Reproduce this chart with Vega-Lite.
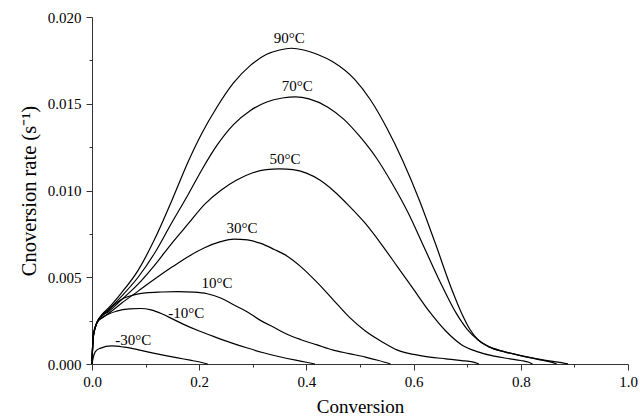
{
  "$schema": "https://vega.github.io/schema/vega-lite/v6.json",
  "width": 536,
  "height": 347,
  "autosize": {"type": "none"},
  "padding": {"left": 92, "top": 17, "right": 12, "bottom": 55},
  "background": "white",
  "config": {
    "view": {"stroke": null},
    "font": "Liberation Serif",
    "axis": {
      "grid": false,
      "labelFont": "Liberation Serif",
      "labelFontSize": 15,
      "labelColor": "black",
      "titleFont": "Liberation Serif",
      "titleFontSize": 19,
      "titleFontWeight": "normal",
      "titleColor": "black",
      "domainColor": "#333",
      "tickColor": "#333",
      "labelFlush": false,
      "labelOverlap": false
    }
  },
  "datasets": {
    "curves": [
      {"T": "90°C", "x": 0, "y": 0},
      {"T": "90°C", "x": 0.002, "y": 0.0015},
      {"T": "90°C", "x": 0.006, "y": 0.0021},
      {"T": "90°C", "x": 0.011, "y": 0.0025},
      {"T": "90°C", "x": 0.02, "y": 0.0029},
      {"T": "90°C", "x": 0.03, "y": 0.0032},
      {"T": "90°C", "x": 0.055, "y": 0.0041},
      {"T": "90°C", "x": 0.086, "y": 0.0054},
      {"T": "90°C", "x": 0.117, "y": 0.0072},
      {"T": "90°C", "x": 0.15, "y": 0.0095},
      {"T": "90°C", "x": 0.18, "y": 0.0117},
      {"T": "90°C", "x": 0.205, "y": 0.0133},
      {"T": "90°C", "x": 0.233, "y": 0.0148},
      {"T": "90°C", "x": 0.264, "y": 0.0162},
      {"T": "90°C", "x": 0.295, "y": 0.0172},
      {"T": "90°C", "x": 0.326, "y": 0.01785},
      {"T": "90°C", "x": 0.35, "y": 0.0181},
      {"T": "90°C", "x": 0.372, "y": 0.0182},
      {"T": "90°C", "x": 0.395, "y": 0.0181},
      {"T": "90°C", "x": 0.42, "y": 0.01785},
      {"T": "90°C", "x": 0.45, "y": 0.0174},
      {"T": "90°C", "x": 0.49, "y": 0.0164},
      {"T": "90°C", "x": 0.52, "y": 0.0152},
      {"T": "90°C", "x": 0.55, "y": 0.0136},
      {"T": "90°C", "x": 0.58, "y": 0.0117},
      {"T": "90°C", "x": 0.61, "y": 0.0095},
      {"T": "90°C", "x": 0.64, "y": 0.007},
      {"T": "90°C", "x": 0.67, "y": 0.0044},
      {"T": "90°C", "x": 0.69, "y": 0.0029},
      {"T": "90°C", "x": 0.705, "y": 0.002},
      {"T": "90°C", "x": 0.72, "y": 0.0014},
      {"T": "90°C", "x": 0.74, "y": 0.001},
      {"T": "90°C", "x": 0.77, "y": 0.0007},
      {"T": "90°C", "x": 0.8, "y": 0.00048},
      {"T": "90°C", "x": 0.83, "y": 0.0003},
      {"T": "90°C", "x": 0.86, "y": 0.00015},
      {"T": "90°C", "x": 0.878, "y": 0.00006},
      {"T": "90°C", "x": 0.888, "y": 0},

      {"T": "70°C", "x": 0, "y": 0},
      {"T": "70°C", "x": 0.002, "y": 0.0015},
      {"T": "70°C", "x": 0.006, "y": 0.0021},
      {"T": "70°C", "x": 0.011, "y": 0.0025},
      {"T": "70°C", "x": 0.02, "y": 0.0028},
      {"T": "70°C", "x": 0.03, "y": 0.0031},
      {"T": "70°C", "x": 0.055, "y": 0.0039},
      {"T": "70°C", "x": 0.086, "y": 0.005},
      {"T": "70°C", "x": 0.117, "y": 0.0064},
      {"T": "70°C", "x": 0.148, "y": 0.0081},
      {"T": "70°C", "x": 0.18, "y": 0.0098},
      {"T": "70°C", "x": 0.205, "y": 0.0112},
      {"T": "70°C", "x": 0.233, "y": 0.0126},
      {"T": "70°C", "x": 0.264, "y": 0.0138},
      {"T": "70°C", "x": 0.295, "y": 0.0146},
      {"T": "70°C", "x": 0.326, "y": 0.0151},
      {"T": "70°C", "x": 0.355, "y": 0.01533},
      {"T": "70°C", "x": 0.38, "y": 0.0154},
      {"T": "70°C", "x": 0.405, "y": 0.01528},
      {"T": "70°C", "x": 0.44, "y": 0.0148},
      {"T": "70°C", "x": 0.47, "y": 0.0141},
      {"T": "70°C", "x": 0.5, "y": 0.0131},
      {"T": "70°C", "x": 0.53, "y": 0.0119},
      {"T": "70°C", "x": 0.56, "y": 0.0104},
      {"T": "70°C", "x": 0.59, "y": 0.0087},
      {"T": "70°C", "x": 0.62, "y": 0.0067},
      {"T": "70°C", "x": 0.65, "y": 0.0047},
      {"T": "70°C", "x": 0.68, "y": 0.0029},
      {"T": "70°C", "x": 0.7, "y": 0.002},
      {"T": "70°C", "x": 0.72, "y": 0.0014},
      {"T": "70°C", "x": 0.74, "y": 0.001},
      {"T": "70°C", "x": 0.77, "y": 0.0007},
      {"T": "70°C", "x": 0.8, "y": 0.00048},
      {"T": "70°C", "x": 0.83, "y": 0.00028},
      {"T": "70°C", "x": 0.855, "y": 0.00012},
      {"T": "70°C", "x": 0.867, "y": 0},

      {"T": "50°C", "x": 0, "y": 0},
      {"T": "50°C", "x": 0.002, "y": 0.0015},
      {"T": "50°C", "x": 0.006, "y": 0.0021},
      {"T": "50°C", "x": 0.011, "y": 0.0025},
      {"T": "50°C", "x": 0.02, "y": 0.0028},
      {"T": "50°C", "x": 0.03, "y": 0.003},
      {"T": "50°C", "x": 0.055, "y": 0.0037},
      {"T": "50°C", "x": 0.086, "y": 0.0046},
      {"T": "50°C", "x": 0.117, "y": 0.0057},
      {"T": "50°C", "x": 0.15, "y": 0.007},
      {"T": "50°C", "x": 0.18, "y": 0.0081},
      {"T": "50°C", "x": 0.21, "y": 0.0092},
      {"T": "50°C", "x": 0.24, "y": 0.01},
      {"T": "50°C", "x": 0.27, "y": 0.0106},
      {"T": "50°C", "x": 0.3, "y": 0.01102},
      {"T": "50°C", "x": 0.325, "y": 0.0112},
      {"T": "50°C", "x": 0.35, "y": 0.01125},
      {"T": "50°C", "x": 0.375, "y": 0.0112},
      {"T": "50°C", "x": 0.4, "y": 0.011},
      {"T": "50°C", "x": 0.425, "y": 0.0106},
      {"T": "50°C", "x": 0.45, "y": 0.01},
      {"T": "50°C", "x": 0.48, "y": 0.0091},
      {"T": "50°C", "x": 0.51, "y": 0.0081},
      {"T": "50°C", "x": 0.54, "y": 0.0069},
      {"T": "50°C", "x": 0.57, "y": 0.0056},
      {"T": "50°C", "x": 0.6, "y": 0.0043},
      {"T": "50°C", "x": 0.63, "y": 0.003},
      {"T": "50°C", "x": 0.66, "y": 0.0019},
      {"T": "50°C", "x": 0.69, "y": 0.0011},
      {"T": "50°C", "x": 0.72, "y": 0.0007},
      {"T": "50°C", "x": 0.75, "y": 0.00045},
      {"T": "50°C", "x": 0.78, "y": 0.0003},
      {"T": "50°C", "x": 0.8, "y": 0.0002},
      {"T": "50°C", "x": 0.815, "y": 0.0001},
      {"T": "50°C", "x": 0.822, "y": 0},

      {"T": "30°C", "x": 0, "y": 0},
      {"T": "30°C", "x": 0.002, "y": 0.0015},
      {"T": "30°C", "x": 0.006, "y": 0.0021},
      {"T": "30°C", "x": 0.011, "y": 0.0025},
      {"T": "30°C", "x": 0.02, "y": 0.0027},
      {"T": "30°C", "x": 0.03, "y": 0.0029},
      {"T": "30°C", "x": 0.055, "y": 0.0035},
      {"T": "30°C", "x": 0.086, "y": 0.0042},
      {"T": "30°C", "x": 0.117, "y": 0.0049},
      {"T": "30°C", "x": 0.15, "y": 0.0056},
      {"T": "30°C", "x": 0.18, "y": 0.0062},
      {"T": "30°C", "x": 0.21, "y": 0.0067},
      {"T": "30°C", "x": 0.24, "y": 0.00705},
      {"T": "30°C", "x": 0.265, "y": 0.0072},
      {"T": "30°C", "x": 0.29, "y": 0.00715},
      {"T": "30°C", "x": 0.315, "y": 0.00695},
      {"T": "30°C", "x": 0.34, "y": 0.0066},
      {"T": "30°C", "x": 0.365, "y": 0.0062},
      {"T": "30°C", "x": 0.39, "y": 0.0056},
      {"T": "30°C", "x": 0.42, "y": 0.0047},
      {"T": "30°C", "x": 0.45, "y": 0.0037},
      {"T": "30°C", "x": 0.48, "y": 0.0027},
      {"T": "30°C", "x": 0.51, "y": 0.0019},
      {"T": "30°C", "x": 0.54, "y": 0.0013},
      {"T": "30°C", "x": 0.57, "y": 0.0008},
      {"T": "30°C", "x": 0.6, "y": 0.00055},
      {"T": "30°C", "x": 0.63, "y": 0.0004},
      {"T": "30°C", "x": 0.66, "y": 0.0003},
      {"T": "30°C", "x": 0.69, "y": 0.0002},
      {"T": "30°C", "x": 0.71, "y": 0.00012},
      {"T": "30°C", "x": 0.722, "y": 0},

      {"T": "10°C", "x": 0, "y": 0},
      {"T": "10°C", "x": 0.002, "y": 0.0014},
      {"T": "10°C", "x": 0.006, "y": 0.0021},
      {"T": "10°C", "x": 0.015, "y": 0.0027},
      {"T": "10°C", "x": 0.03, "y": 0.0031},
      {"T": "10°C", "x": 0.045, "y": 0.0035},
      {"T": "10°C", "x": 0.06, "y": 0.0038},
      {"T": "10°C", "x": 0.08, "y": 0.004},
      {"T": "10°C", "x": 0.1, "y": 0.0041},
      {"T": "10°C", "x": 0.13, "y": 0.00415},
      {"T": "10°C", "x": 0.16, "y": 0.00417},
      {"T": "10°C", "x": 0.19, "y": 0.00414},
      {"T": "10°C", "x": 0.215, "y": 0.00405},
      {"T": "10°C", "x": 0.24, "y": 0.0038},
      {"T": "10°C", "x": 0.265, "y": 0.0034},
      {"T": "10°C", "x": 0.29, "y": 0.003},
      {"T": "10°C", "x": 0.315, "y": 0.0025},
      {"T": "10°C", "x": 0.34, "y": 0.0021},
      {"T": "10°C", "x": 0.365, "y": 0.0017},
      {"T": "10°C", "x": 0.39, "y": 0.0014},
      {"T": "10°C", "x": 0.42, "y": 0.0011},
      {"T": "10°C", "x": 0.45, "y": 0.0008},
      {"T": "10°C", "x": 0.48, "y": 0.0006},
      {"T": "10°C", "x": 0.51, "y": 0.0004},
      {"T": "10°C", "x": 0.535, "y": 0.0002},
      {"T": "10°C", "x": 0.557, "y": 0},

      {"T": "-10°C", "x": 0, "y": 0},
      {"T": "-10°C", "x": 0.0025, "y": 0.0018},
      {"T": "-10°C", "x": 0.01, "y": 0.0024},
      {"T": "-10°C", "x": 0.021, "y": 0.0027},
      {"T": "-10°C", "x": 0.046, "y": 0.00305},
      {"T": "-10°C", "x": 0.07, "y": 0.00318},
      {"T": "-10°C", "x": 0.09, "y": 0.0032},
      {"T": "-10°C", "x": 0.11, "y": 0.00312},
      {"T": "-10°C", "x": 0.13, "y": 0.0029},
      {"T": "-10°C", "x": 0.15, "y": 0.0026},
      {"T": "-10°C", "x": 0.17, "y": 0.0023},
      {"T": "-10°C", "x": 0.2, "y": 0.0019},
      {"T": "-10°C", "x": 0.23, "y": 0.00155},
      {"T": "-10°C", "x": 0.26, "y": 0.00122},
      {"T": "-10°C", "x": 0.29, "y": 0.00092},
      {"T": "-10°C", "x": 0.32, "y": 0.00065},
      {"T": "-10°C", "x": 0.35, "y": 0.00042},
      {"T": "-10°C", "x": 0.38, "y": 0.00022},
      {"T": "-10°C", "x": 0.4, "y": 0.0001},
      {"T": "-10°C", "x": 0.416, "y": 0},

      {"T": "-30°C", "x": 0, "y": 0},
      {"T": "-30°C", "x": 0.0025, "y": 0.0004},
      {"T": "-30°C", "x": 0.006, "y": 0.0007},
      {"T": "-30°C", "x": 0.015, "y": 0.0009},
      {"T": "-30°C", "x": 0.037, "y": 0.00104},
      {"T": "-30°C", "x": 0.06, "y": 0.00097},
      {"T": "-30°C", "x": 0.085, "y": 0.00083},
      {"T": "-30°C", "x": 0.11, "y": 0.00066},
      {"T": "-30°C", "x": 0.135, "y": 0.0005},
      {"T": "-30°C", "x": 0.16, "y": 0.00035},
      {"T": "-30°C", "x": 0.183, "y": 0.00022},
      {"T": "-30°C", "x": 0.203, "y": 0.0001},
      {"T": "-30°C", "x": 0.216, "y": 0}
    ],
    "labels": [
      {"label": "90°C", "x": 0.368, "y": 0.0188},
      {"label": "70°C", "x": 0.383, "y": 0.016},
      {"label": "50°C", "x": 0.36, "y": 0.01182},
      {"label": "30°C", "x": 0.28, "y": 0.00782},
      {"label": "10°C", "x": 0.233, "y": 0.00465},
      {"label": "-10°C", "x": 0.176, "y": 0.00292},
      {"label": "-30°C", "x": 0.077, "y": 0.00138}
    ]
  },
  "layer": [
    {
      "data": {"name": "curves"},
      "mark": {"type": "line", "interpolate": "monotone", "color": "black", "strokeWidth": 1.2},
      "encoding": {
        "x": {
          "field": "x", "type": "quantitative",
          "scale": {"domain": [0, 1], "nice": false, "zero": false},
          "axis": {"orient": "bottom", "values": [0, 0.2, 0.4, 0.6, 0.8, 1.0], "format": ".1f", "tickSize": 6, "labelPadding": 4, "title": "Conversion", "titlePadding": 8}
        },
        "y": {
          "field": "y", "type": "quantitative",
          "scale": {"domain": [0, 0.02], "nice": false},
          "axis": {"orient": "left", "values": [0, 0.005, 0.01, 0.015, 0.02], "format": ".3f", "tickSize": 6, "labelPadding": 5, "title": "Cnoversion rate (s⁻¹)", "titleFontSize": 20.5, "titlePadding": 8}
        },
        "detail": {"field": "T", "type": "nominal"}
      }
    },
    {
      "data": {"name": "curves"},
      "mark": {"type": "line", "opacity": 0},
      "encoding": {
        "x": {
          "field": "x", "type": "quantitative",
          "axis": {"orient": "bottom", "values": [0.1, 0.3, 0.5, 0.7, 0.9], "tickSize": 3, "labels": false, "domain": false, "title": null}
        },
        "y": {
          "field": "y", "type": "quantitative",
          "axis": {"orient": "left", "values": [0.0025, 0.0075, 0.0125, 0.0175], "tickSize": 3, "labels": false, "domain": false, "title": null}
        },
        "detail": {"field": "T", "type": "nominal"}
      }
    },
    {
      "data": {"name": "labels"},
      "mark": {"type": "text", "font": "Liberation Serif", "fontSize": 15, "color": "black", "baseline": "middle", "align": "center"},
      "encoding": {
        "x": {"field": "x", "type": "quantitative", "axis": null},
        "y": {"field": "y", "type": "quantitative", "axis": null},
        "text": {"field": "label", "type": "nominal"}
      }
    }
  ],
  "resolve": {"axis": {"x": "independent", "y": "independent"}}
}
